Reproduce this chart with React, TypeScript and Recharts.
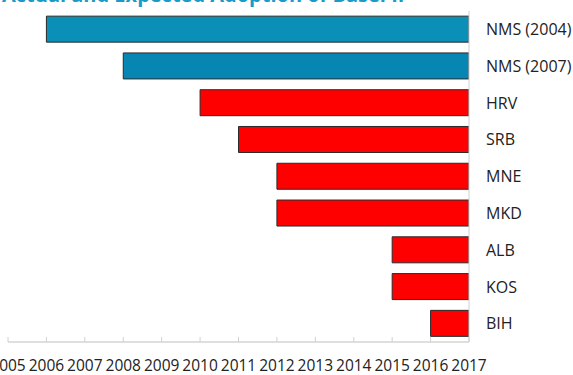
import { BarChart, Bar, XAxis, YAxis, Cell } from 'recharts';

// categories top to bottom
const countries = ['NMS (2004)', 'NMS (2007)', 'HRV', 'SRB', 'MNE', 'MKD', 'ALB', 'KOS', 'BIH'];
// year of (actual or expected) Basel II adoption
const adoptionYears = [2006, 2008, 2010, 2011, 2012, 2012, 2015, 2015, 2016];
const horizonYear = 2017;
const yearTicks = [2005, 2006, 2007, 2008, 2009, 2010, 2011, 2012, 2013, 2014, 2015, 2016, 2017];
// category boundaries for the small ticks on the right axis
const bandEdges = [0, 1, 2, 3, 4, 5, 6, 7, 8, 9];
const barColors = ['#0A90B6', '#0786B3', '#FF0000', '#FF0000', '#FF0000', '#FF0000', '#FF0000', '#FF0000', '#FF0000'];

const data = countries.map((name, i) => ({
  name,
  range: [adoptionYears[i], horizonYear],
}));

const FONT = '"Open Sans", "Noto Sans", sans-serif';

export default function App() {
  return (
    <div
      style={{
        position: 'fixed',
        left: 0,
        top: 0,
        width: 573,
        height: 375,
        overflow: 'hidden',
        background: '#fff',
        fontFamily: FONT,
      }}
    >
      <svg width={573} height={20} style={{ position: 'absolute', left: 0, top: 0 }}>
        <text x={2} y={2} fontSize={20} fontWeight={700} fill="#1A9AC9" fontFamily={FONT}>
          Actual and Expected Adoption of Basel II
        </text>
      </svg>
      <BarChart
        width={573}
        height={375}
        data={data}
        layout="vertical"
        margin={{ top: 11, right: 0, bottom: 0, left: 8 }}
        barCategoryGap="14%"
      >
        <XAxis
          type="number"
          domain={[2005, 2017]}
          ticks={yearTicks}
          interval={0}
          allowDataOverflow
          height={33}
          axisLine={{ stroke: '#BFBFBF' }}
          tickLine={{ stroke: '#D0D0D0' }}
          tickSize={-5}
          tickMargin={23}
          tick={{ fill: '#222', fontSize: 15.5, fontFamily: FONT }}
        />
        <XAxis
          xAxisId="top"
          orientation="top"
          type="number"
          domain={[2005, 2017]}
          height={0}
          tick={false}
          tickLine={false}
          axisLine={{ stroke: '#D9D9D9' }}
        />
        <YAxis
          yAxisId="left"
          orientation="left"
          type="category"
          dataKey="name"
          width={0}
          tick={false}
          tickLine={false}
          axisLine={{ stroke: '#D9D9D9' }}
        />
        <YAxis
          yAxisId="edges"
          orientation="right"
          type="number"
          domain={[0, 9]}
          ticks={bandEdges}
          interval={0}
          width={0}
          axisLine={false}
          tickSize={-6}
          tickLine={{ stroke: '#D0D0D0' }}
          tick={false}
        />
        <YAxis
          type="category"
          dataKey="name"
          orientation="right"
          width={104}
          axisLine={{ stroke: '#D0D0D0' }}
          tickLine={false}
          tickMargin={11}
          tick={{ fill: '#222', fontSize: 16, fontFamily: FONT, textAnchor: 'start' }}
        />
        <Bar dataKey="range" isAnimationActive={false} stroke="#2A2A2A" strokeWidth={1}>
          {data.map((_entry, index) => (
            <Cell key={`cell-${index}`} fill={barColors[index]} />
          ))}
        </Bar>
      </BarChart>
    </div>
  );
}
